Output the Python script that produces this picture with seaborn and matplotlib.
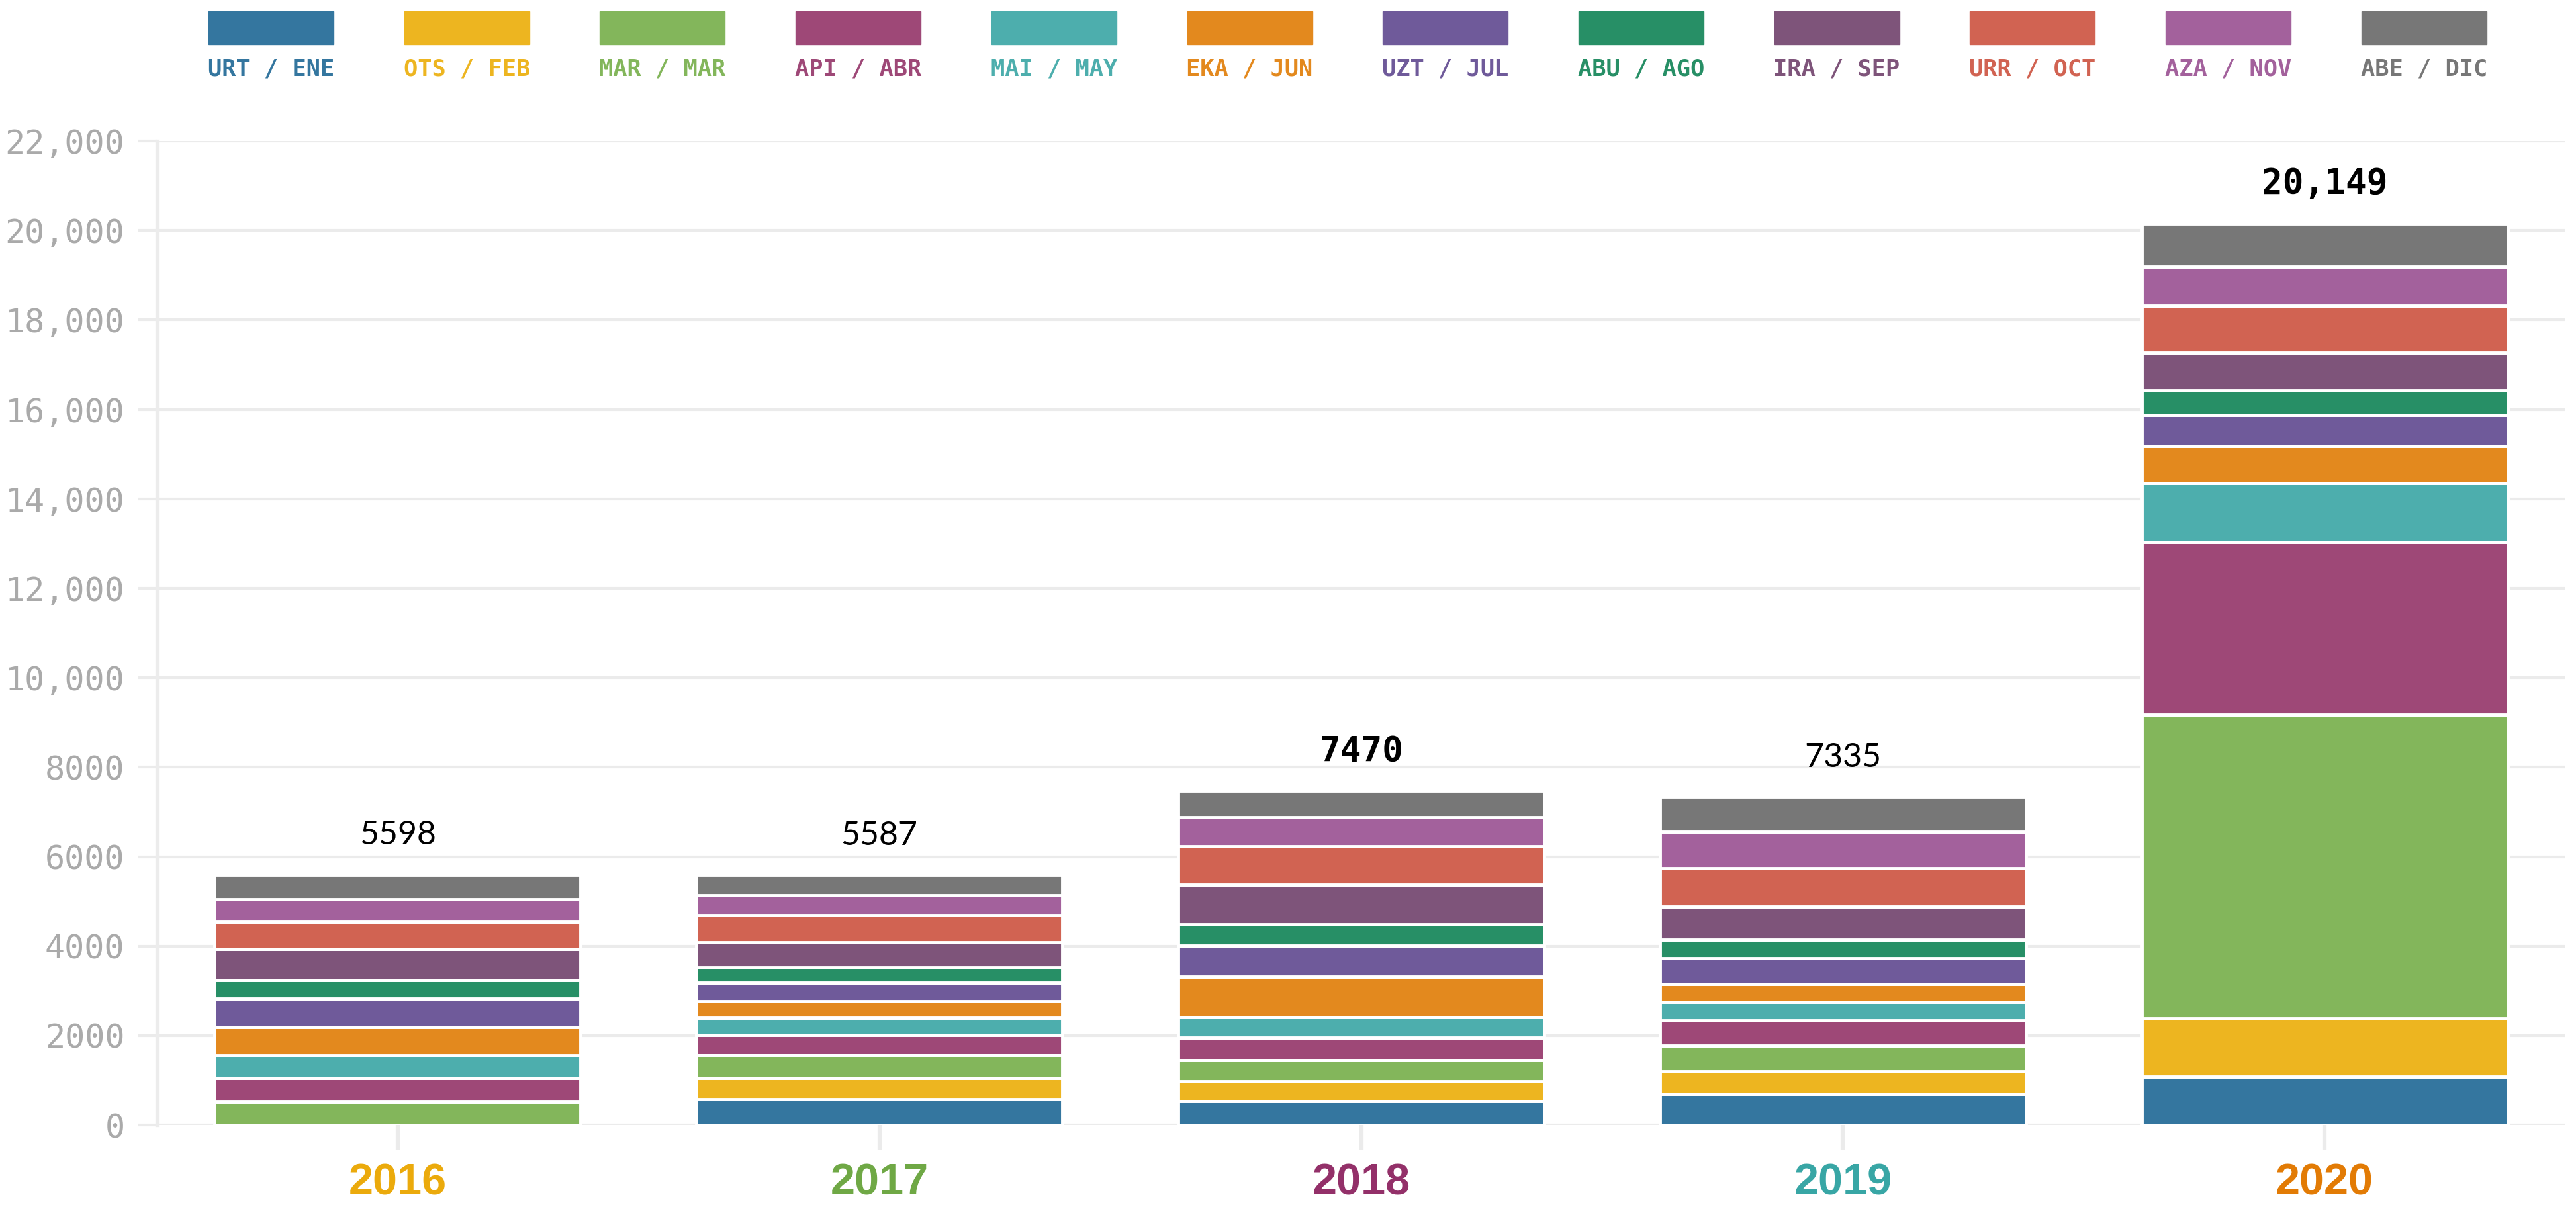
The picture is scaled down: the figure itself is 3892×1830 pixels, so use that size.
import numpy as np
import pandas as pd
import seaborn as sns
import matplotlib.pyplot as plt
from matplotlib.patches import Rectangle
from matplotlib.ticker import FuncFormatter

years = ["2016", "2017", "2018", "2019", "2020"]
year_colors = ["#EBAA0C", "#6FA845", "#933069", "#38A6A5", "#E27B05"]

months = ["URT / ENE", "OTS / FEB", "MAR / MAR", "API / ABR", "MAI / MAY", "EKA / JUN",
          "UZT / JUL", "ABU / AGO", "IRA / SEP", "URR / OCT", "AZA / NOV", "ABE / DIC"]
month_colors = ["#34769F", "#EDB520", "#83B65B", "#9E4877", "#4DAEAD", "#E3891E",
                "#6F5A9A", "#278F66", "#7E547A", "#D16352", "#A3619C", "#777777"]

# values per month, one entry per year
ene = [0, 576, 531, 697, 1077]
feb = [0, 475, 441, 503, 1308]
mar = [523, 517, 483, 579, 6784]
abr = [522, 446, 497, 566, 3862]
may = [505, 380, 462, 407, 1323]
jun = [642, 368, 903, 400, 831]
jul = [641, 422, 690, 579, 692]
ago = [404, 344, 483, 407, 539]
sep = [695, 559, 883, 745, 846]
oct_ = [606, 600, 862, 855, 1061]
nov = [511, 451, 648, 814, 862]
dic = [549, 449, 587, 783, 964]

series = [ene, feb, mar, abr, may, jun, jul, ago, sep, oct_, nov, dic]

rows = []
for m, vals in zip(months, series):
    for y, v in zip(years, vals):
        rows.append({"year": y, "month": m, "value": v})
df = pd.DataFrame(rows)
wide = df.pivot(index="year", columns="month", values="value").loc[years, months]


def fmt(v):
    v = int(round(v))
    return f"{v:,}" if v >= 10000 else str(v)


mono = ["DejaVu Sans Mono"]
sans = ["Lato", "DejaVu Sans"]
grid_c = "#ebebeb"
# the totals are not all set in the same face in the original
total_fonts = [(sans, "normal", 36), (sans, "normal", 36), (mono, "bold", 38),
               (sans, "normal", 36), (mono, "bold", 38)]

fig = plt.figure(figsize=(38.92, 18.30), dpi=100)
ax = fig.add_axes([0.0609, 0.0710, 0.935, 0.8126])

bottom = np.zeros(len(years))
for m, c in zip(months, month_colors):
    vals = wide[m].values.astype(float)
    sns.barplot(x=years, y=vals, bottom=bottom.copy(), color=c, saturation=1,
                width=0.76, edgecolor="white", linewidth=3.5, ax=ax)
    bottom += vals

totals = wide.sum(axis=1).values
for i, t in enumerate(totals):
    fam, wt, sz = total_fonts[i]
    ax.annotate(fmt(t), (i, t), xytext=(0, 43), textcoords="offset points",
                ha="center", va="center", fontsize=sz, family=fam,
                fontweight=wt, color="black")

ax.set_xlim(-0.5, 4.5)
ax.set_ylim(0, 22000)
ax.set_yticks(range(0, 22001, 2000))
ax.yaxis.set_major_formatter(FuncFormatter(lambda v, p: fmt(v)))
ax.set_xlabel("")
ax.set_ylabel("")

ax.set_axisbelow(True)
ax.yaxis.grid(True, color=grid_c, linewidth=3)
ax.xaxis.grid(False)
for s in ["top", "right", "bottom"]:
    ax.spines[s].set_visible(False)
ax.spines["left"].set_color("#ececec")
ax.spines["left"].set_linewidth(3.8)

ax.tick_params(axis="y", length=21, width=3, color=grid_c, pad=14,
               labelsize=36, labelcolor="#aaaaaa")
for lab in ax.get_yticklabels():
    lab.set_family(mono)
ax.tick_params(axis="x", length=27, width=4.5, color=grid_c, pad=14)
for lab, c in zip(ax.get_xticklabels(), year_colors):
    lab.set_family(["Liberation Sans", "DejaVu Sans"])
    lab.set_fontweight("bold")
    lab.set_fontsize(48)
    lab.set_color(c)

# legend row at the top
W, H = 3892, 1830
for i, (m, c) in enumerate(zip(months, month_colors)):
    x0 = 315 + i * 295.7
    fig.patches.append(Rectangle((x0 / W, 1 - 67 / H), 189 / W, 50 / H,
                                 transform=fig.transFigure, color=c))
    fig.text((x0 + 94.5) / W, 1 - 104 / H, m, ha="center", va="center",
             fontsize=25.5, fontweight="bold", family=mono, color=c)

fig.savefig("out.png", dpi=100)
